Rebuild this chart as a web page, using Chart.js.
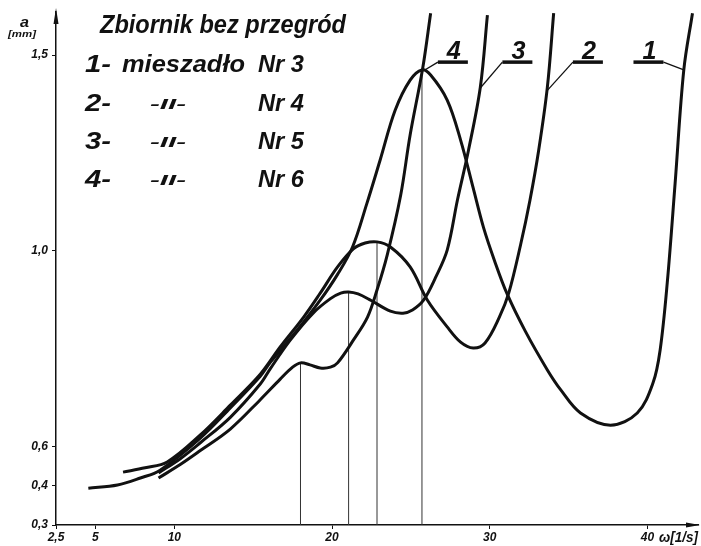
<!DOCTYPE html>
<html>
<head>
<meta charset="utf-8">
<script src="https://cdn.jsdelivr.net/npm/chart.js@4.4.1/dist/chart.umd.min.js"></script>
<style>
  html, body { margin: 0; padding: 0; background: #fff; }
  #wrap { width: 701px; height: 546px; }
</style>
</head>
<body>
<div id="wrap"><canvas id="chart"></canvas></div>
<script>
// omega [1/s] and amplitude a [mm]
const curve1Omega = [4.55, 6.4, 7.85, 9.1, 11.65, 13.55, 15.45, 16.1, 17.8, 19.25, 20.35, 21.3, 22.2, 23.05, 24.0, 24.95, 25.7, 26.25, 27.3, 28.15, 28.95, 29.6, 30.3, 31.1, 32.25, 33.65, 34.5, 35.75, 37.65, 39.35, 40.35, 40.8, 41.25, 41.75, 42.3, 42.85];
const curve1Amp   = [0.394, 0.402, 0.42, 0.44, 0.522, 0.599, 0.68, 0.716, 0.798, 0.874, 0.94, 1.01, 1.12, 1.232, 1.359, 1.436, 1.462, 1.449, 1.385, 1.283, 1.16, 1.06, 0.975, 0.89, 0.795, 0.696, 0.645, 0.586, 0.555, 0.586, 0.663, 0.747, 0.918, 1.173, 1.462, 1.607];

const curve2Omega = [6.75, 8.15, 9.55, 11.65, 13.55, 15.45, 16.7, 18.2, 19.25, 20.35, 21.35, 22.1, 22.85, 23.7, 24.95, 26.05, 27.3, 28.15, 28.95, 29.7, 30.6, 31.2, 31.95, 32.55, 33.1, 33.65, 34.05];
const curve2Amp   = [0.435, 0.446, 0.461, 0.53, 0.606, 0.685, 0.754, 0.831, 0.892, 0.959, 1.005, 1.02, 1.023, 1.01, 0.959, 0.874, 0.806, 0.767, 0.752, 0.765, 0.83, 0.892, 1.015, 1.13, 1.257, 1.418, 1.607];

const curve3Omega = [9.0, 10.4, 11.65, 13.55, 15.45, 16.1, 17.35, 18.8, 19.9, 20.55, 21.05, 21.65, 22.45, 23.7, 24.5, 25.1, 25.8, 26.55, 27.3, 27.95, 28.65, 29.4, 29.85];
const curve3Amp   = [0.433, 0.47, 0.51, 0.575, 0.66, 0.7, 0.772, 0.841, 0.878, 0.892, 0.895, 0.89, 0.874, 0.846, 0.841, 0.849, 0.874, 0.931, 1.002, 1.13, 1.257, 1.418, 1.602];

const curve4Omega = [9.0, 10.4, 11.65, 13.55, 15.45, 16.7, 17.5, 18.0, 18.6, 19.25, 19.9, 20.35, 21.35, 22.25, 22.85, 23.5, 24.35, 24.95, 25.75, 26.25];
const curve4Amp   = [0.42, 0.455, 0.49, 0.545, 0.62, 0.672, 0.703, 0.714, 0.709, 0.701, 0.703, 0.714, 0.772, 0.831, 0.9, 0.99, 1.142, 1.296, 1.467, 1.607];

// first maximum of each curve (thin verticals)
const peakOmega = [25.7, 22.85, 21.05, 18.0];
const peakAmp   = [1.462, 1.023, 0.895, 0.714];

const curveNames  = ['1', '2', '3', '4'];
const xTickValues = [2.5, 5, 10, 20, 30, 40];
const xTickLabels = ['2,5', '5', '10', '20', '30', '40'];
const yTickValues = [0.3, 0.4, 0.5, 1.0, 1.5];
const yTickLabels = ['0,3', '0,4', '0,6', '1,0', '1,5'];

const omegas = [curve1Omega, curve2Omega, curve3Omega, curve4Omega];
const amps = [curve1Amp, curve2Amp, curve3Amp, curve4Amp];

const hand = '"Liberation Sans", "DejaVu Sans", sans-serif';

function squeezeText(ctx, text, x, base, width, size) {
    ctx.font = 'italic bold ' + size + 'px ' + hand;
    const w = ctx.measureText(text).width;
    ctx.save();
    ctx.translate(x, base);
    ctx.scale(width / w, 1);
    ctx.textAlign = 'left';
    ctx.textBaseline = 'alphabetic';
    ctx.fillText(text, 0, 0);
    ctx.restore();
}

const sketch = {
    id: 'sketch',
    afterDraw(chart) {
        const ctx = chart.ctx;
        const xs = chart.scales.x, ys = chart.scales.y;
        const area = chart.chartArea;
        ctx.save();
        ctx.fillStyle = '#111';
        ctx.strokeStyle = '#111';

        // arrow heads on the axes
        ctx.beginPath();
        ctx.moveTo(area.left, area.top - 4);
        ctx.lineTo(area.left - 2.5, area.top + 12);
        ctx.lineTo(area.left + 2.5, area.top + 12);
        ctx.closePath();
        ctx.fill();
        ctx.beginPath();
        ctx.moveTo(area.right + 2, area.bottom);
        ctx.lineTo(area.right - 12, area.bottom - 2.5);
        ctx.lineTo(area.right - 12, area.bottom + 2.5);
        ctx.closePath();
        ctx.fill();

        // axis names
        squeezeText(ctx, 'a', 20, 27, 9, 15);
        squeezeText(ctx, '[mm]', 8, 37, 28, 9);
        squeezeText(ctx, 'ω[1/s]', 659, 542, 39, 15);

        // title and legend block
        squeezeText(ctx, 'Zbiornik bez przegród', 100, 33, 246, 25);
        const rowBase = [72, 111, 149, 187];
        const nrLabels = ['Nr 3', 'Nr 4', 'Nr 5', 'Nr 6'];
        rowBase.forEach((b, i) => {
            squeezeText(ctx, curveNames[i] + '-', 85, b, 26, 24);
            if (i === 0) {
                squeezeText(ctx, 'mieszadło', 122, b, 123, 24);
            } else {
                squeezeText(ctx, '-II-', 150, b - 2, 36, 15);
            }
            squeezeText(ctx, nrLabels[i], 258, b, 46, 24);
        });

        // curve numbers on top with leader lines
        const tagOmega = [40.06, 36.22, 31.75, 27.66];
        const hitOmega = [42.3, 33.65, 29.4, 25.8];
        const hitAmp = [1.462, 1.41, 1.416, 1.46];
        const tagY = ys.getPixelForValue(1.482);
        tagOmega.forEach((w, i) => {
            const cx = xs.getPixelForValue(w);
            const half = 15;
            ctx.lineWidth = 3.5;
            ctx.beginPath();
            ctx.moveTo(cx - half, tagY);
            ctx.lineTo(cx + half, tagY);
            ctx.stroke();
            const sx = i === 0 ? cx + half : cx - half;
            ctx.lineWidth = 1.3;
            ctx.beginPath();
            ctx.moveTo(sx, tagY);
            ctx.lineTo(xs.getPixelForValue(hitOmega[i]), ys.getPixelForValue(hitAmp[i]));
            ctx.stroke();
            squeezeText(ctx, curveNames[i], cx - 6, tagY - 3, 14, 26);
        });
        ctx.restore();
    }
};

const datasets = [];
omegas.forEach((om, i) => {
    datasets.push({
        label: curveNames[i],
        data: om.map((w, j) => ({ x: w, y: amps[i][j] })),
        showLine: true,
        borderColor: '#111',
        borderWidth: 3,
        pointRadius: 0,
        tension: 0.35,
        fill: false
    });
});
peakOmega.forEach((w, i) => {
    datasets.push({
        label: 'max ' + curveNames[i],
        data: [{ x: w, y: 0.3 }, { x: w, y: peakAmp[i] }],
        showLine: true,
        borderColor: '#333',
        borderWidth: 1,
        pointRadius: 0
    });
});

new Chart(document.getElementById('chart').getContext('2d'), {
    type: 'scatter',
    data: { datasets: datasets },
    options: {
        responsive: true,
        maintainAspectRatio: false,
        animation: false,
        layout: { padding: { top: 12, right: 3, left: 0, bottom: 0 } },
        plugins: {
            legend: { display: false },
            tooltip: { enabled: false }
        },
        scales: {
            x: {
                type: 'linear',
                min: 2.5,
                max: 43.2,
                afterBuildTicks: (scale) => { scale.ticks = xTickValues.map(v => ({ value: v })); },
                afterFit: (scale) => { scale.height = 21; },
                grid: { drawOnChartArea: false, drawTicks: true, tickLength: 4, color: '#111' },
                border: { display: true, color: '#111', width: 1.5 },
                ticks: {
                    autoSkip: false,
                    maxRotation: 0,
                    padding: 1,
                    color: '#111',
                    font: { family: hand, size: 12, style: 'italic', weight: 'bold' },
                    callback: (v, i) => xTickLabels[i]
                }
            },
            y: {
                type: 'linear',
                min: 0.3,
                max: 1.61,
                afterBuildTicks: (scale) => { scale.ticks = yTickValues.map(v => ({ value: v })); },
                afterFit: (scale) => { scale.width = 56; },
                grid: { drawOnChartArea: false, drawTicks: true, tickLength: 4, color: '#111' },
                border: { display: true, color: '#111', width: 1.5 },
                ticks: {
                    autoSkip: false,
                    padding: 4,
                    color: '#111',
                    font: { family: hand, size: 12, style: 'italic', weight: 'bold' },
                    callback: (v, i) => yTickLabels[i]
                }
            }
        }
    },
    plugins: [sketch]
});
</script>
</body>
</html>
